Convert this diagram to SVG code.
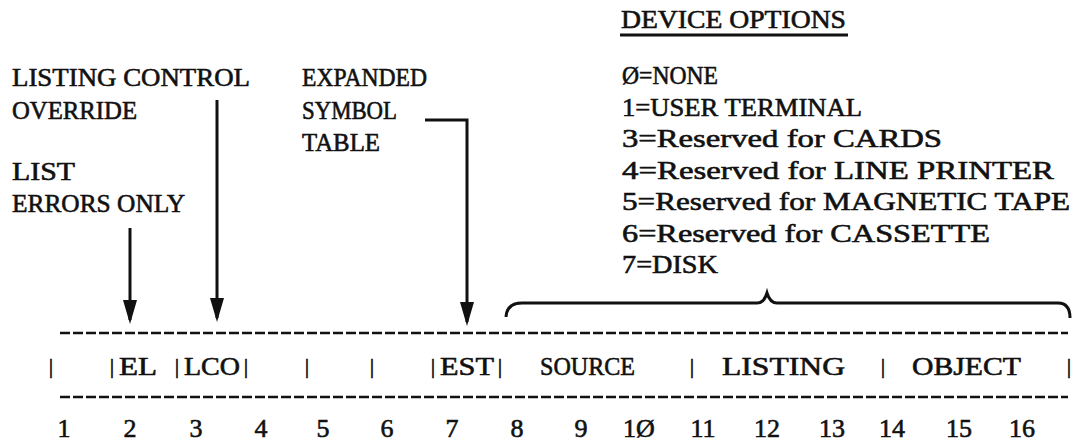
<svg xmlns="http://www.w3.org/2000/svg" width="1076" height="448" viewBox="0 0 1076 448">
<style>
text{font-family:"Liberation Serif","Times New Roman",serif;font-size:26px;fill:#111;stroke:#111;stroke-width:0.6}
.mid{text-anchor:middle}
.bar{font-size:22px}
.ln{stroke:#111;stroke-width:3;fill:none}
.dash{stroke:#111;stroke-width:2.6;stroke-dasharray:10 3;fill:none}
</style>
<defs>
<marker id="ah" viewBox="0 0 24 14" refX="20" refY="7" markerWidth="24" markerHeight="14" markerUnits="userSpaceOnUse" orient="auto">
<path d="M0,0 L24,7 L0,14 Z" fill="#111"/>
</marker>
</defs>
<rect width="1076" height="448" fill="#fff"/>

<g id="device-options">
<text x="621" y="28" textLength="225" lengthAdjust="spacingAndGlyphs">DEVICE OPTIONS</text>
<line class="ln" x1="620" y1="35" x2="848" y2="35" stroke-width="2.8"/>
<text x="622" y="84" textLength="96" lengthAdjust="spacingAndGlyphs">Ø=NONE</text>
<text x="622" y="115.5" textLength="240" lengthAdjust="spacingAndGlyphs">1=USER TERMINAL</text>
<text x="622" y="147" textLength="320" lengthAdjust="spacingAndGlyphs">3=Reserved for CARDS</text>
<text x="622" y="178.5" textLength="432" lengthAdjust="spacingAndGlyphs">4=Reserved for LINE PRINTER</text>
<text x="622" y="210" textLength="448" lengthAdjust="spacingAndGlyphs">5=Reserved for MAGNETIC TAPE</text>
<text x="622" y="241.5" textLength="368" lengthAdjust="spacingAndGlyphs">6=Reserved for CASSETTE</text>
<text x="622" y="273" textLength="96" lengthAdjust="spacingAndGlyphs">7=DISK</text>
</g>

<g id="label-lco">
<text x="12" y="86" textLength="238" lengthAdjust="spacingAndGlyphs">LISTING CONTROL</text>
<text x="12" y="119" textLength="125" lengthAdjust="spacingAndGlyphs">OVERRIDE</text>
</g>
<g id="label-el">
<text x="12" y="180" textLength="63" lengthAdjust="spacingAndGlyphs">LIST</text>
<text x="12" y="212" textLength="173" lengthAdjust="spacingAndGlyphs">ERRORS ONLY</text>
</g>
<g id="label-est">
<text x="302" y="86" textLength="125" lengthAdjust="spacingAndGlyphs">EXPANDED</text>
<text x="302" y="119" textLength="95" lengthAdjust="spacingAndGlyphs">SYMBOL</text>
<text x="302" y="151" textLength="78" lengthAdjust="spacingAndGlyphs">TABLE</text>
</g>

<g id="connectors">
<line class="ln" x1="130" y1="228" x2="130" y2="320" marker-end="url(#ah)"/>
<line class="ln" x1="217" y1="100" x2="217" y2="318" marker-end="url(#ah)"/>
<path class="ln" d="M425,120 H467 V322" marker-end="url(#ah)"/>
<path class="ln" d="M506,317 Q507,303 522,303 H757 Q764,303 767,293 Q770,303 777,303 H1058 Q1070,303 1070,318" stroke-width="2.6"/>
</g>

<g id="record">
<line class="dash" x1="60" y1="333" x2="1068" y2="333"/>
<line class="dash" x1="60" y1="397" x2="1068" y2="397"/>
<text class="mid bar" x="51" y="373">|</text>
<text class="mid bar" x="112" y="373">|</text>
<text x="119" y="375" textLength="38" lengthAdjust="spacingAndGlyphs">EL</text>
<text class="mid bar" x="177" y="373">|</text>
<text x="184" y="375" textLength="56" lengthAdjust="spacingAndGlyphs">LCO</text>
<text class="mid bar" x="246" y="373">|</text>
<text class="mid bar" x="307" y="373">|</text>
<text class="mid bar" x="372" y="373">|</text>
<text class="mid bar" x="433" y="373">|</text>
<text x="440" y="375" textLength="54" lengthAdjust="spacingAndGlyphs">EST</text>
<text class="mid bar" x="500" y="373">|</text>
<text x="540" y="375" textLength="95" lengthAdjust="spacingAndGlyphs">SOURCE</text>
<text class="mid bar" x="692" y="373">|</text>
<text x="722" y="375" textLength="123" lengthAdjust="spacingAndGlyphs">LISTING</text>
<text class="mid bar" x="883" y="373">|</text>
<text x="912" y="375" textLength="109" lengthAdjust="spacingAndGlyphs">OBJECT</text>
<text class="mid bar" x="1069" y="373">|</text>
</g>

<g id="numbers">
<text class="mid" x="64" y="437">1</text>
<text class="mid" x="130" y="437">2</text>
<text class="mid" x="196" y="437">3</text>
<text class="mid" x="261" y="437">4</text>
<text class="mid" x="323" y="437">5</text>
<text class="mid" x="387" y="437">6</text>
<text class="mid" x="452" y="437">7</text>
<text class="mid" x="517" y="437">8</text>
<text class="mid" x="581" y="437">9</text>
<text class="mid" x="639" y="437">1Ø</text>
<text class="mid" x="703" y="437">11</text>
<text class="mid" x="767" y="437">12</text>
<text class="mid" x="832" y="437">13</text>
<text class="mid" x="892" y="437">14</text>
<text class="mid" x="959" y="437">15</text>
<text class="mid" x="1022" y="437">16</text>
</g>
</svg>
